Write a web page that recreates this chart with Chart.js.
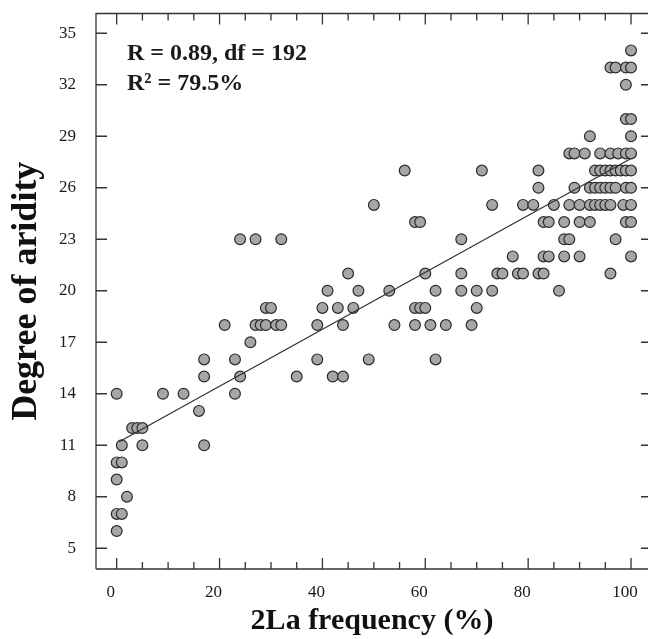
<!DOCTYPE html>
<html>
<head>
<meta charset="utf-8">
<script src="https://cdn.jsdelivr.net/npm/chart.js@4.4.1/dist/chart.umd.min.js"></script>
<style>
html, body { margin: 0; padding: 0; background: #fff; }
</style>
</head>
<body>
<canvas id="scatter" width="648" height="639"></canvas>
<script>
// degree of aridity levels, and the 2La frequencies seen at each level
const aridityLevels = [34, 33, 32, 30, 29, 28, 27, 26, 25, 24, 23, 22, 21, 20,
                       19, 18, 17, 16, 15, 14, 13, 12, 11, 10, 9, 8, 7, 6];
const freqAtLevel = [
    [100],
    [96, 97, 99, 100],
    [99],
    [99, 100],
    [92, 100],
    [88, 89, 91, 94, 96, 97.5, 99, 100],
    [56, 71, 82, 93, 94, 95, 96, 97, 98, 99, 100],
    [82, 89, 92, 93, 94, 95, 96, 97, 99, 100],
    [50, 73, 79, 81, 85, 88, 90, 92, 93, 94, 95, 96, 98.5, 100],
    [58, 59, 83, 84, 87, 90, 92, 99, 100],
    [24, 27, 32, 67, 87, 88, 97],
    [77, 83, 84, 87, 90, 100],
    [45, 60, 67, 74, 75, 78, 79, 82, 83, 96],
    [41, 47, 53, 62, 67, 70, 73, 86],
    [29, 30, 40, 43, 46, 58, 59, 60, 70],
    [21, 27, 28, 29, 31, 32, 39, 44, 54, 58, 61, 64, 69],
    [26],
    [17, 23, 39, 49, 62],
    [17, 24, 35, 42, 44],
    [0, 9, 13, 23],
    [16],
    [3, 4, 5],
    [1, 5, 17],
    [0, 1],
    [0],
    [2],
    [0, 1],
    [0]
];

// regression line ends
const fitX = [0.5, 100];
const fitY = [11.2, 27.7];

const xTicks = [0, 20, 40, 60, 80, 100];
const xMinorTicks = [0, 5, 10, 15, 20, 25, 30, 35, 40, 45, 50, 55, 60, 65, 70, 75, 80, 85, 90, 95, 100];
const yTicks = [5, 8, 11, 14, 17, 20, 23, 26, 29, 32, 35];
const statsLines = ['R = 0.89, df = 192', 'R\u00b2 = 79.5%'];

const serif = '"Liberation Serif", "DejaVu Serif", serif';

const points = [];
aridityLevels.forEach((lvl, i) => {
    freqAtLevel[i].forEach(f => points.push({ x: f, y: lvl }));
});

// no extra room for edge labels, so the plot box sits where the original does
const noPad = s => {
    s.paddingTop = 0;
    s.paddingBottom = 0;
    s.paddingLeft = 0;
    s.paddingRight = 0;
};

const framePlugin = {
    id: 'frame',
    afterDraw(chart) {
	const { ctx, chartArea: a, scales: { x, y } } = chart;
	ctx.save();
	ctx.strokeStyle = '#333';
	ctx.lineWidth = 1.3;
	ctx.beginPath();
	ctx.moveTo(a.left, a.bottom);
	ctx.lineTo(a.left, a.top);
	ctx.lineTo(a.right, a.top);
	ctx.moveTo(a.left, a.bottom);
	ctx.lineTo(a.right, a.bottom);
	xMinorTicks.forEach(v => {
	    const px = x.getPixelForValue(v);
	    const len = (v % 20 === 0) ? 11 : 7;
	    ctx.moveTo(px, a.bottom);
	    ctx.lineTo(px, a.bottom - len);
	    ctx.moveTo(px, a.top);
	    ctx.lineTo(px, a.top + len);
	});
	yTicks.forEach(v => {
	    const py = y.getPixelForValue(v);
	    ctx.moveTo(a.left, py);
	    ctx.lineTo(a.left + 11, py);
	    ctx.moveTo(a.right - 7, py);
	    ctx.lineTo(a.right, py);
	});
	ctx.stroke();

	ctx.fillStyle = '#1a1a1a';
	ctx.font = 'bold 24px ' + serif;
	ctx.textBaseline = 'alphabetic';
	ctx.textAlign = 'left';
	statsLines.forEach((t, i) => ctx.fillText(t, a.left + 31, a.top + 46.5 + i * 30));
	ctx.restore();
    }
};

const ctx = document.getElementById('scatter').getContext('2d');

new Chart(ctx, {
    type: 'scatter',
    data: {
	datasets: [{
	    data: fitX.map((v, i) => ({ x: v, y: fitY[i] })),
	    showLine: true,
	    pointRadius: 0,
	    borderColor: '#333',
	    borderWidth: 1.3,
	    order: 0
	}, {
	    data: points,
	    pointRadius: 5.4,
	    backgroundColor: '#a6a6a6',
	    borderColor: '#2b2b2b',
	    borderWidth: 1.2,
	    order: 1
	}]
    },
    plugins: [framePlugin],
    options: {
	responsive: false,
	animation: false,
	layout: { autoPadding: false, padding: { top: 13.5, right: 0, left: 0, bottom: 0 } },
	plugins: {
	    legend: { display: false },
	    tooltip: { enabled: false }
	},
	scales: {
	    x: {
		type: 'linear',
		min: -4.02,
		max: 103.3,
		afterBuildTicks: s => { s.ticks = xTicks.map(v => ({ value: v })); },
		afterFit: s => { s.height = 70; noPad(s); },
		grid: { display: false, drawTicks: false },
		border: { display: false },
		ticks: {
		    padding: 13,
		    labelOffset: -6,
		    color: '#1a1a1a',
		    font: { family: serif, size: 17 }
		},
		title: {
		    display: true,
		    text: '2La frequency (%)',
		    color: '#111',
		    font: { family: serif, size: 30, weight: 'bold' },
		    padding: { top: 0, bottom: 0 }
		}
	    },
	    y: {
		min: 3.79,
		max: 36.15,
		afterBuildTicks: s => { s.ticks = yTicks.map(v => ({ value: v })); },
		afterFit: s => { s.width = 96; noPad(s); },
		grid: { display: false, drawTicks: false },
		border: { display: false },
		ticks: {
		    padding: 20,
		    color: '#1a1a1a',
		    font: { family: serif, size: 17 }
		},
		title: {
		    display: true,
		    text: 'Degree of aridity',
		    color: '#111',
		    font: { family: serif, size: 36, weight: 'bold' },
		    padding: { top: 5, bottom: 0 }
		}
	    }
	}
    }
});
</script>
</body>
</html>
